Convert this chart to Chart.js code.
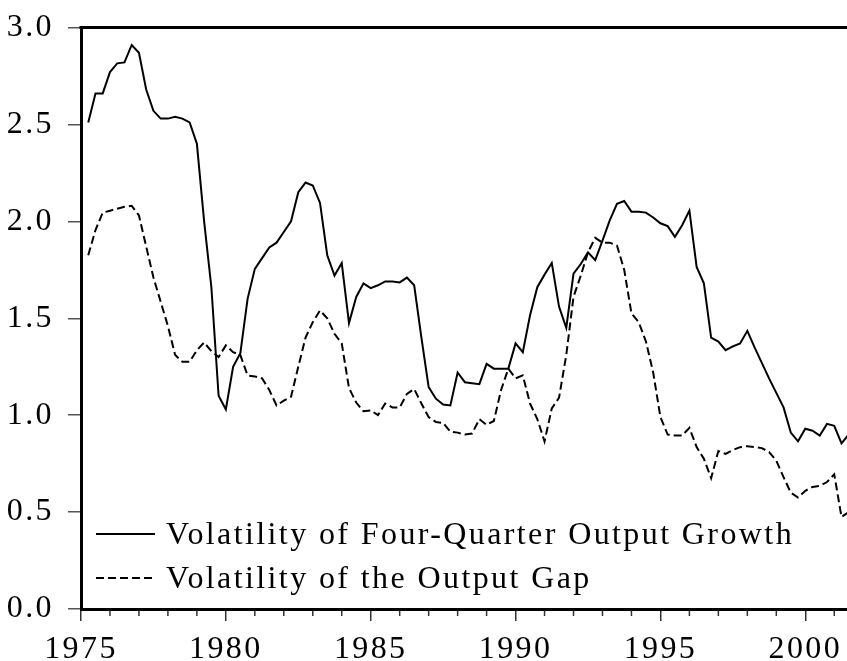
<!DOCTYPE html>
<html><head><meta charset="utf-8">
<script src="https://cdn.jsdelivr.net/npm/chart.js@4/dist/chart.umd.min.js"></script>
<style>html,body{margin:0;padding:0;background:#fff;overflow:hidden}</style>
</head><body>
<canvas id="c" width="847" height="661" style="display:block;width:847px;height:661px"></canvas>
<script>
// ---- data (quarterly, first observation 1975Q2) ----
const firstYear = 1975, firstQuarter = 2, nObs = 106;
const quarterLabels = [];
for (let i = 0; i < nObs; i++) {
  const q = firstQuarter - 1 + i;
  quarterLabels.push((firstYear + Math.floor(q / 4)) + 'Q' + (q % 4 + 1));
}
const seriesNames = ['Volatility of Four-Quarter Output Growth', 'Volatility of the Output Gap'];
const growthVol = [
  2.51, 2.66, 2.66, 2.77, 2.815, 2.82, 2.91, 2.87, 2.68, 2.57,
  2.53, 2.53, 2.54, 2.53, 2.51, 2.40, 2.00, 1.66, 1.10, 1.03,
  1.25, 1.32, 1.60, 1.755, 1.81, 1.865, 1.89, 1.945, 2.00, 2.15,
  2.20, 2.185, 2.095, 1.825, 1.72, 1.785, 1.475, 1.61, 1.68, 1.655,
  1.67, 1.69, 1.69, 1.685, 1.71, 1.67, 1.40, 1.145, 1.085, 1.055,
  1.05, 1.22, 1.17, 1.165, 1.16, 1.265, 1.24, 1.24, 1.24, 1.37,
  1.325, 1.515, 1.66, 1.725, 1.785, 1.56, 1.45, 1.73, 1.78, 1.84,
  1.80, 1.90, 2.005, 2.09, 2.105, 2.05, 2.05, 2.045, 2.02, 1.99,
  1.975, 1.92, 1.98, 2.055, 1.765, 1.68, 1.40, 1.38, 1.335, 1.355,
  1.37, 1.435, 1.35, 1.27, 1.19, 1.115, 1.04, 0.91, 0.865, 0.93,
  0.92, 0.895, 0.955, 0.945, 0.855, 0.90
];
const gapVol = [
  1.825, 1.955, 2.045, 2.055, 2.065, 2.075, 2.08, 2.03, 1.87, 1.71,
  1.585, 1.46, 1.31, 1.275, 1.275, 1.335, 1.375, 1.33, 1.30, 1.36,
  1.325, 1.31, 1.205, 1.20, 1.19, 1.13, 1.05, 1.075, 1.095, 1.25,
  1.40, 1.48, 1.54, 1.50, 1.42, 1.37, 1.14, 1.065, 1.02, 1.025,
  1.00, 1.06, 1.04, 1.04, 1.11, 1.135, 1.06, 0.99, 0.965, 0.96,
  0.915, 0.91, 0.90, 0.905, 0.98, 0.95, 0.97, 1.13, 1.24, 1.19,
  1.205, 1.06, 0.98, 0.865, 1.035, 1.09, 1.31, 1.61, 1.72, 1.84,
  1.915, 1.89, 1.89, 1.875, 1.75, 1.525, 1.48, 1.38, 1.22, 0.99,
  0.90, 0.895, 0.895, 0.935, 0.835, 0.775, 0.675, 0.815, 0.80, 0.82,
  0.835, 0.84, 0.835, 0.83, 0.81, 0.765, 0.68, 0.60, 0.575, 0.61,
  0.63, 0.635, 0.655, 0.695, 0.475, 0.50
];
const xTickLabels = [1975, 1980, 1985, 1990, 1995, 2000];
const yTickValues = [0, 0.5, 1.0, 1.5, 2.0, 2.5, 3.0];
const xMin = 1975, xMax = 2001.44;

function qToYear(lbl) {
  const y = parseInt(lbl.slice(0, 4), 10), q = parseInt(lbl.slice(5), 10);
  return y + (q - 1) / 4;
}
const toPoints = arr => arr.map((v, i) => ({ x: qToYear(quarterLabels[i]), y: v }));

const FONT = 'Liberation Serif';
const FONT_SIZE = 32;
const SPACING = '2.4px';
Chart.defaults.font.family = FONT;
Chart.defaults.font.size = FONT_SIZE;
Chart.defaults.color = '#000';

const spacingPlugin = {
  id: 'spacing',
  beforeLayout(chart) { chart.ctx.letterSpacing = SPACING; },
  beforeDraw(chart) { chart.ctx.letterSpacing = SPACING; }
};

const framePlugin = {
  id: 'frame',
  afterDraw(chart) {
    const ctx = chart.ctx, a = chart.chartArea, xs = chart.scales.x;
    ctx.save();
    ctx.strokeStyle = '#000';
    ctx.lineWidth = 3;
    ctx.beginPath();
    ctx.moveTo(a.left - 1.5, a.top);
    ctx.lineTo(chart.width, a.top);
    ctx.stroke();
    // minor yearly ticks
    ctx.lineWidth = 1.5;
    ctx.strokeStyle = '#333';
    for (let yr = Math.ceil(xMin); yr <= Math.floor(xMax); yr++) {
      if (xTickLabels.includes(yr)) continue;
      const px = xs.getPixelForValue(yr);
      ctx.beginPath();
      ctx.moveTo(px, a.bottom + 1.5);
      ctx.lineTo(px, a.bottom + 7);
      ctx.stroke();
    }
    ctx.restore();
  }
};

const legendPlugin = {
  id: 'innerLegend',
  afterDatasetsDraw(chart) {
    const ctx = chart.ctx, a = chart.chartArea;
    ctx.save();
    ctx.font = FONT_SIZE + 'px "' + FONT + '"';
    ctx.letterSpacing = SPACING;
    ctx.fillStyle = '#000';
    ctx.textBaseline = 'alphabetic';
    ctx.textAlign = 'left';
    chart.data.datasets.forEach((ds, k) => {
      const lineY = a.bottom - 75 + k * 44;
      ctx.strokeStyle = ds.borderColor;
      ctx.lineWidth = 2;
      ctx.setLineDash(ds.borderDash || []);
      ctx.beginPath();
      ctx.moveTo(a.left + 15, lineY);
      ctx.lineTo(a.left + 74, lineY);
      ctx.stroke();
      ctx.setLineDash([]);
      ctx.fillText(ds.label, a.left + 85, lineY + 10);
    });
    ctx.restore();
  }
};

new Chart(document.getElementById('c'), {
  type: 'line',
  data: {
    datasets: [
      { label: seriesNames[0], data: toPoints(growthVol), borderColor: '#000', borderWidth: 2,
        pointRadius: 0, fill: false, tension: 0 },
      { label: seriesNames[1], data: toPoints(gapVol), borderColor: '#000', borderWidth: 2,
        borderDash: [8, 4], pointRadius: 0, fill: false, tension: 0 }
    ]
  },
  options: {
    responsive: false,
    animation: false,
    devicePixelRatio: 1,
    layout: { padding: { top: 0, right: 0, left: 0, bottom: 0 } },
    plugins: { legend: { display: false }, tooltip: { enabled: false } },
    scales: {
      x: {
        type: 'linear', min: xMin, max: xMax,
        afterBuildTicks: s => { s.ticks = xTickLabels.map(v => ({ value: v })); },
        afterFit: s => { s.height = 52; s.paddingRight = 0; s.paddingLeft = 0; },
        ticks: { callback: v => String(v), padding: 9, maxRotation: 0, autoSkip: false },
        grid: { drawOnChartArea: false, drawTicks: true, tickLength: 12, lineWidth: 1.5, color: '#333' },
        border: { display: true, color: '#000', width: 3 }
      },
      y: {
        type: 'linear', min: 0, max: 3,
        afterBuildTicks: s => { s.ticks = yTickValues.map(v => ({ value: v })); },
        afterFit: s => { s.width = 81; s.paddingTop = 27.5; s.paddingBottom = 0; },
        ticks: { callback: v => Number(v).toFixed(1), padding: 14 },
        grid: { drawOnChartArea: false, drawTicks: true, tickLength: 13, lineWidth: 1.5, color: '#555' },
        border: { display: true, color: '#000', width: 3 }
      }
    }
  },
  plugins: [spacingPlugin, framePlugin, legendPlugin]
});
</script>
</body></html>
